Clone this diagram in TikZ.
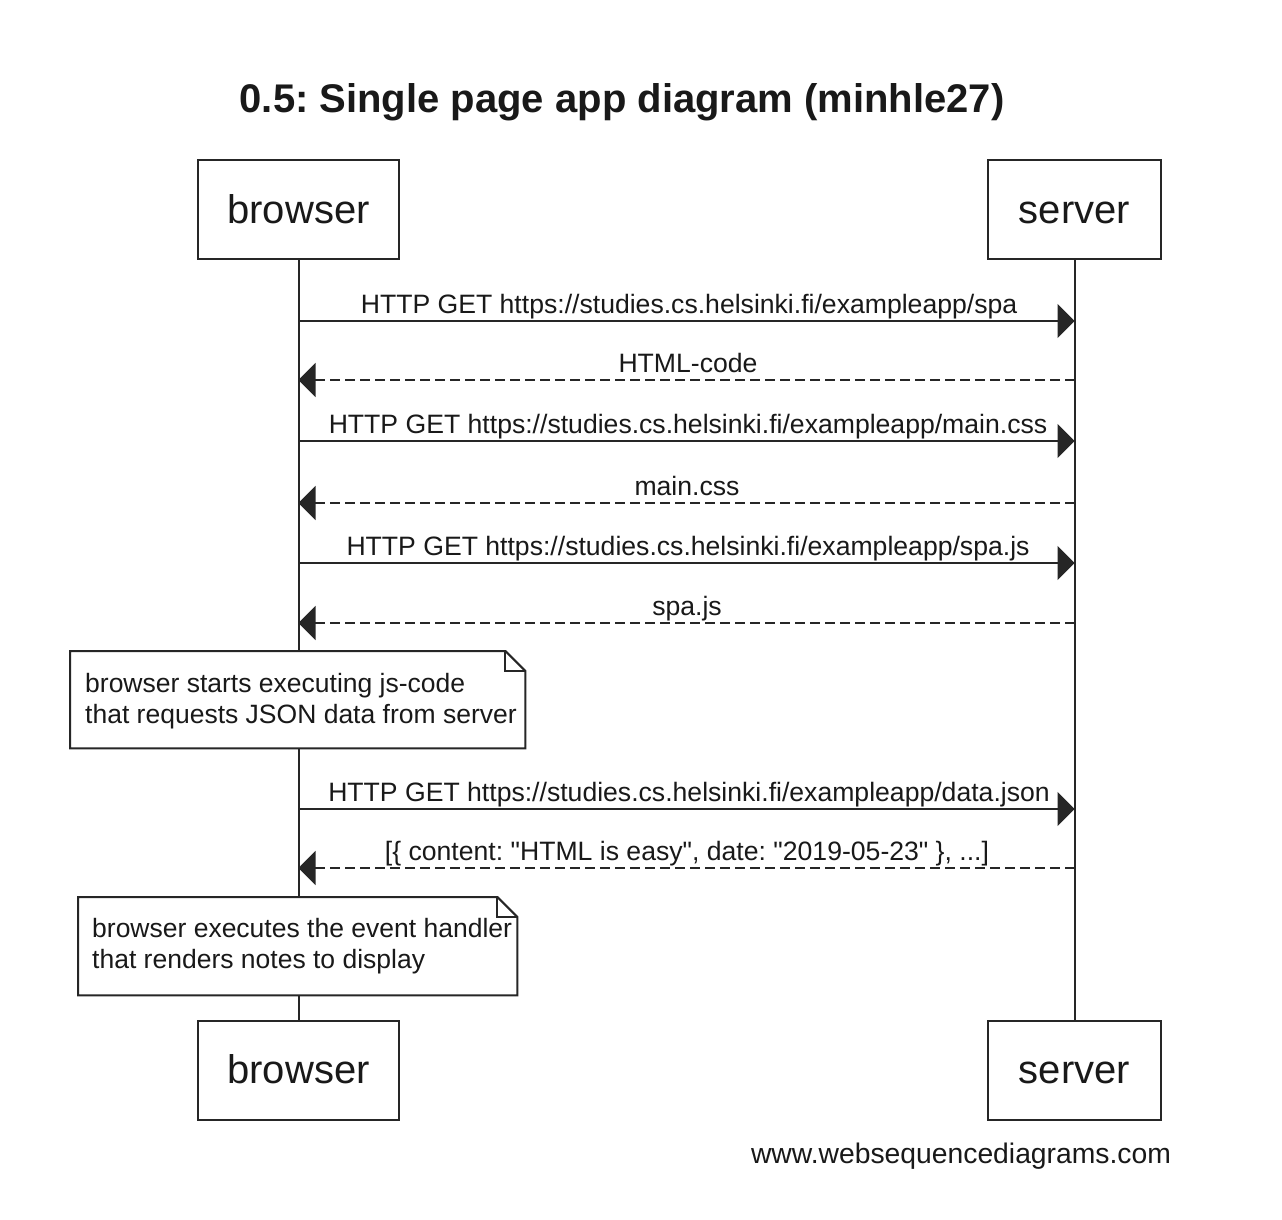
\documentclass[tikz,border=0pt]{standalone}
\usepackage{fontspec}
\setmainfont{Liberation Sans}
\usetikzlibrary{arrows.meta}
\frenchspacing
\begin{document}
\begin{tikzpicture}[x=1pt,y=-1pt,
  ln/.style={line width=2pt, draw=black!85},
  part/.style={ln, rectangle, inner sep=0pt, minimum height=99pt, text height=27pt, text depth=0pt, font=\fontsize{40}{48}\selectfont, text=black!90},
  msg/.style={ln, -{Triangle[length=17pt,width=34pt]}},
  reply/.style={msg, dash pattern=on 10pt off 5pt},
  lbl/.style={anchor=base, inner sep=0pt, font=\fontsize{26.6}{31}\selectfont, text=black!90},
  notebg/.style={fill=white, draw=none, inner sep=0pt, anchor=north west},
  notetext/.style={anchor=north west, inner sep=0pt, align=left, font=\fontsize{26.5}{31}\selectfont, text=black!90},
]
\useasboundingbox[fill=white] (0,0) rectangle (1282,1220);

% title
\node[anchor=base, inner sep=0pt, font=\fontsize{40}{48}\selectfont\bfseries, text=black!90] (title) at (622,113) {0.5: Single page app diagram (minhle27)};

% participants
\node[part, minimum width=201pt] (bt) at (298.5,209.5) {browser};
\node[part, minimum width=173pt] (st) at (1074.5,209.5) {server};
\node[part, minimum width=201pt] (bb) at (298.5,1070) {browser};
\node[part, minimum width=173pt] (sb) at (1074.5,1070) {server};

% lifelines
\draw[ln] (bt.south) -- (bb.north);
\draw[ln] (st.south) -- (sb.north);

% row coordinates
\coordinate (r1) at (0,321);
\coordinate (r2) at (0,380);
\coordinate (r3) at (0,441);
\coordinate (r4) at (0,503);
\coordinate (r5) at (0,563);
\coordinate (r6) at (0,623);
\coordinate (r7) at (0,809);
\coordinate (r8) at (0,868);

% messages
\draw[msg] (bt |- r1) -- (st |- r1);
\node[lbl] (l1) at (689,313.5) {HTTP GET https://studies.cs.helsinki.fi/exampleapp/spa};
\draw[reply] (st |- r2) -- (bt |- r2);
\node[lbl] (l2) at (688,372.5) {HTML-code};
\draw[msg] (bt |- r3) -- (st |- r3);
\node[lbl] (l3) at (688,433.5) {HTTP GET https://studies.cs.helsinki.fi/exampleapp/main.css};
\draw[reply] (st |- r4) -- (bt |- r4);
\node[lbl] (l4) at (687,495.5) {main.css};
\draw[msg] (bt |- r5) -- (st |- r5);
\node[lbl] (l5) at (688,555.5) {HTTP GET https://studies.cs.helsinki.fi/exampleapp/spa.js};
\draw[reply] (st |- r6) -- (bt |- r6);
\node[lbl] (l6) at (687,615.5) {spa.js};

% note 1
\node[notebg, minimum width=455pt, minimum height=97pt] (n1) at (70,651) {};
\draw[ln, line join=miter] (n1.north west) -- ([xshift=-20pt]n1.north east) -- ([yshift=-20pt]n1.north east) -- (n1.south east) -- (n1.south west) -- cycle;
\draw[ln] ([xshift=-20pt]n1.north east) -- ([xshift=-20pt,yshift=-20pt]n1.north east) -- ([yshift=-20pt]n1.north east);
\node[notetext] (n1t) at (85,673) {browser starts executing js-code\\that requests JSON data from server};

\draw[msg] (bt |- r7) -- (st |- r7);
\node[lbl] (l7) at (689,801.5) {HTTP GET https://studies.cs.helsinki.fi/exampleapp/data.json};
\draw[reply] (st |- r8) -- (bt |- r8);
\node[lbl] (l8) at (687,860.5) {[\{ content: \textquotedbl HTML is easy\textquotedbl, date: \textquotedbl 2019-05-23\textquotedbl\ \}, ...]};

% note 2
\node[notebg, minimum width=439pt, minimum height=98pt] (n2) at (78,897) {};
\draw[ln, line join=miter] (n2.north west) -- ([xshift=-20pt]n2.north east) -- ([yshift=-20pt]n2.north east) -- (n2.south east) -- (n2.south west) -- cycle;
\draw[ln] ([xshift=-20pt]n2.north east) -- ([xshift=-20pt,yshift=-20pt]n2.north east) -- ([yshift=-20pt]n2.north east);
\node[notetext] (n2t) at (92,918) {browser executes the event handler\\that renders notes to display};

% footer
\node[anchor=base, inner sep=0pt, font=\fontsize{28.3}{34}\selectfont, text=black!90] (foot) at (961,1163) {www.websequencediagrams.com};
\end{tikzpicture}
\end{document}
